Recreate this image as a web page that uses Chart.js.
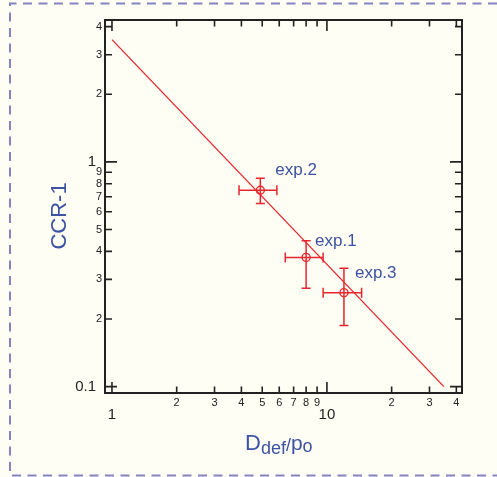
<!DOCTYPE html>
<html>
<head>
<meta charset="utf-8">
<script src="https://cdn.jsdelivr.net/npm/chart.js@4/dist/chart.umd.min.js"></script>
<style>
  html, body { margin: 0; padding: 0; background: #fefef5; }
  canvas { display: block; }
</style>
</head>
<body>
<canvas id="chart" width="497" height="477"></canvas>
<script>
// fitted line  CCR-1 vs Ddef/po
const fitX = [1, 35];
const fitY = [3.5, 0.1];

// experiments
const expNames = ['exp.1', 'exp.2', 'exp.3'];
const expX = [8.0, 4.9, 12.0];
const expY = [0.376, 0.748, 0.262];
const expXLo = [6.4, 3.9, 9.6];
const expXHi = [9.6, 5.85, 14.5];
const expYLo = [0.274, 0.653, 0.187];
const expYHi = [0.446, 0.845, 0.336];
// label offsets in px from the point
const labelDx = [9, 15, 11];
const labelDy = [-11, -15, -15];

// tick values
const xMajorTicks = [1, 10];
const xMajorLabels = ['1', '10'];
const xMinorTicks = [2, 3, 4, 5, 6, 7, 8, 9, 20, 30, 40];
const xMinorLabels = ['2', '3', '4', '5', '6', '7', '8', '9', '2', '3', '4'];
const yMajorTicks = [0.1, 1];
const yMajorLabels = ['0.1', '1'];
const yMinorTicks = [0.2, 0.3, 0.4, 0.5, 0.6, 0.7, 0.8, 0.9, 2, 3, 4];
const yMinorLabels = ['2', '3', '4', '5', '6', '7', '8', '9', '2', '3', '4'];

const RED = '#e8252c';
const BLUE = '#3c52a3';
const INK = '#222';
const FONT = '"Liberation Sans", Arial, sans-serif';

const pagePlugin = {
    id: 'page',
    beforeDraw(chart) {
        const ctx = chart.ctx;
        ctx.save();
        ctx.fillStyle = '#fefef5';
        ctx.fillRect(0, 0, chart.width, chart.height);
        ctx.strokeStyle = '#8484c2';
        ctx.lineWidth = 2;
        ctx.setLineDash([9, 6.5]);
        ctx.beginPath();
        ctx.moveTo(497, 3.5);
        ctx.lineTo(10, 3.5);
        ctx.lineTo(10, 475.5);
        ctx.lineTo(497, 475.5);
        ctx.stroke();
        ctx.restore();
    }
};

const axesPlugin = {
    id: 'axesFrame',
    afterDatasetsDraw(chart) {
        const ctx = chart.ctx;
        const a = chart.chartArea;
        const xs = chart.scales.x, ys = chart.scales.y;
        ctx.save();

        // error bars
        ctx.strokeStyle = RED;
        ctx.lineWidth = 1.5;
        expX.forEach((v, i) => {
            const px = xs.getPixelForValue(v), py = ys.getPixelForValue(expY[i]);
            const x0 = xs.getPixelForValue(expXLo[i]), x1 = xs.getPixelForValue(expXHi[i]);
            const y0 = ys.getPixelForValue(expYLo[i]), y1 = ys.getPixelForValue(expYHi[i]);
            ctx.beginPath();
            ctx.moveTo(x0, py); ctx.lineTo(x1, py);
            ctx.moveTo(x0, py - 5); ctx.lineTo(x0, py + 5);
            ctx.moveTo(x1, py - 5); ctx.lineTo(x1, py + 5);
            ctx.moveTo(px, y0); ctx.lineTo(px, y1);
            ctx.moveTo(px - 4.5, y0); ctx.lineTo(px + 4.5, y0);
            ctx.moveTo(px - 4.5, y1); ctx.lineTo(px + 4.5, y1);
            ctx.stroke();

            ctx.fillStyle = BLUE;
            ctx.font = '17px ' + FONT;
            ctx.textAlign = 'left';
            ctx.textBaseline = 'alphabetic';
            ctx.fillText(expNames[i], px + labelDx[i], py + labelDy[i]);
        });

        // frame
        ctx.strokeStyle = INK;
        ctx.lineWidth = 2;
        ctx.strokeRect(a.left, a.top, a.right - a.left, a.bottom - a.top);

        // inward ticks on all four sides
        ctx.lineWidth = 1.6;
        const xt = (v, len) => {
            const p = xs.getPixelForValue(v);
            ctx.moveTo(p, a.bottom); ctx.lineTo(p, a.bottom - len);
            ctx.moveTo(p, a.top); ctx.lineTo(p, a.top + len);
        };
        const yt = (v, len) => {
            const p = ys.getPixelForValue(v);
            ctx.moveTo(a.left, p); ctx.lineTo(a.left + len, p);
            ctx.moveTo(a.right, p); ctx.lineTo(a.right - len, p);
        };
        ctx.beginPath();
        xMajorTicks.forEach(v => xt(v, 11));
        xMinorTicks.forEach(v => xt(v, 6.5));
        yMajorTicks.forEach(v => yt(v, 12));
        yMinorTicks.forEach(v => yt(v, 7));
        ctx.stroke();

        // tick labels
        ctx.fillStyle = INK;
        ctx.textBaseline = 'middle';
        ctx.textAlign = 'center';
        ctx.font = '11px ' + FONT;
        xMinorTicks.forEach((v, i) => ctx.fillText(xMinorLabels[i], xs.getPixelForValue(v), a.bottom + 10));
        ctx.font = '15px ' + FONT;
        xMajorTicks.forEach((v, i) => ctx.fillText(xMajorLabels[i], xs.getPixelForValue(v), a.bottom + 22));
        ctx.textAlign = 'right';
        ctx.font = '11px ' + FONT;
        yMinorTicks.forEach((v, i) => ctx.fillText(yMinorLabels[i], a.left - 3, ys.getPixelForValue(v)));
        ctx.font = '15px ' + FONT;
        yMajorTicks.forEach((v, i) => ctx.fillText(yMajorLabels[i], a.left - 9, ys.getPixelForValue(v)));

        // axis titles
        ctx.fillStyle = BLUE;
        ctx.save();
        ctx.translate(66, 216);
        ctx.rotate(-Math.PI / 2);
        ctx.textAlign = 'center';
        ctx.textBaseline = 'alphabetic';
        ctx.font = '22px ' + FONT;
        ctx.fillText('CCR-1', 0, 0);
        ctx.restore();

        ctx.textAlign = 'left';
        ctx.textBaseline = 'alphabetic';
        let tx = 245;
        const part = (s, size, base) => {
            ctx.font = size + 'px ' + FONT;
            ctx.fillText(s, tx, base);
            tx += ctx.measureText(s).width;
        };
        part('D', 22, 450);
        part('def', 18, 454);
        part('/', 18, 451);
        part('p', 21, 450);
        part('o', 18, 452);

        ctx.restore();
    }
};

new Chart(document.getElementById('chart'), {
    type: 'scatter',
    data: {
        datasets: [
            {
                label: 'fit',
                data: fitX.map((x, i) => ({ x: x, y: fitY[i] })),
                showLine: true,
                borderColor: RED,
                borderWidth: 1.3,
                pointRadius: 0
            },
            {
                label: 'experiments',
                data: expX.map((x, i) => ({ x: x, y: expY[i] })),
                pointRadius: 4,
                pointBorderWidth: 1.4,
                borderColor: RED,
                backgroundColor: 'rgba(0,0,0,0)'
            }
        ]
    },
    options: {
        responsive: false,
        animation: false,
        layout: { padding: { left: 105, right: 35, top: 20, bottom: 84 } },
        scales: {
            x: { type: 'logarithmic', min: 0.928, max: 42.5, display: false },
            y: { type: 'logarithmic', min: 0.0937, max: 4.28, display: false }
        },
        plugins: {
            legend: { display: false },
            tooltip: { enabled: false }
        }
    },
    plugins: [pagePlugin, axesPlugin]
});
</script>
</body>
</html>
